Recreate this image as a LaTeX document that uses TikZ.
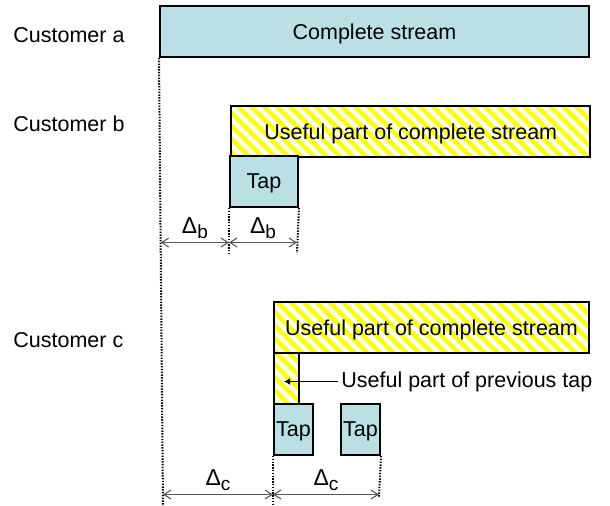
\documentclass[tikz,border=0pt]{standalone}
\usepackage{fontspec}
\setmainfont{Liberation Sans}
\usepackage{tikz}
\usetikzlibrary{calc,arrows.meta,patterns.meta}
\definecolor{tapblue}{RGB}{185,224,228}
\tikzset{
 tapfill/.style = {draw=black, line width=1pt, fill=tapblue, inner sep=0pt, text depth=0pt},
 hatchfill/.style = {draw=black, line width=1pt, inner sep=0pt, text depth=0pt,
   pattern={Lines[angle=-45, distance=4.6pt, line width=2.3pt]}, pattern color=yellow},
 custlabel/.style = {anchor=base west, inner sep=0pt},
 guideline/.style = {line width=1pt, dash pattern=on 0.7pt off 0.7pt},
 dimline/.style = {draw=black!65, line width=0.55pt,
   {Straight Barb[length=3.5pt,width=4.5pt]}-{Straight Barb[length=3.5pt,width=4.5pt]}},
 dimlabel/.style = {above, inner sep=1.5pt}
}
\pgfkeys{
 /segBlock/.is family, /segBlock,
 w/.estore in = \sbW,
 h/.estore in = \sbH,
 text/.store in = \sbText,
 kind/.estore in = \sbKind,
 name/.estore in = \sbName,
 default/.style =
  {w=68, h=51, text={}, kind=tapfill, name=defaultname}
}
\newcommand{\segBlock}[2][]{
    \pgfkeys{/segBlock, default, #1}%
    \node[\sbKind, anchor=north west,
          minimum width=\sbW*0.5pt, minimum height=\sbH*0.5pt] (\sbName) at #2 {\sbText};
}
\newcommand{\guideSB}[3]{
    \coordinate (#3) at #2;
    \draw[guideline] (#1) -- (#3);
}
\newcommand{\dsub}[1]{{\fontsize{11.5}{12}\selectfont Δ}\raisebox{-2.5pt}{\fontsize{9.5}{10}\selectfont #1}}

\begin{document}
\begin{tikzpicture}[x=0.5pt, y=-0.5pt, font=\fontsize{10.75}{12}\selectfont]
    \useasboundingbox (0,0) rectangle (610,506);

    \node[custlabel] (custA) at (13,42.5) {Customer a};
    \node[custlabel] (custB) at (13,132) {Customer b};
    \node[custlabel] (custC) at (13,348) {Customer c};

    \segBlock[name=streamA, w=429, text={Complete stream}]{(159,5)}
    \segBlock[name=usefulB, w=359, kind=hatchfill, text={Useful part of complete stream}]{(229,104)}
    \segBlock[name=tapB, text={Tap}]{(229,155)}
    \segBlock[name=usefulC, w=315, kind=hatchfill, text={Useful part of complete stream}]{(273,301)}
    \segBlock[name=prevC, w=25, kind=hatchfill]{(273,352)}
    \segBlock[name=tapCa, w=39, text={Tap}]{(273,403)}
    \segBlock[name=tapCb, w=39, text={Tap}]{(340,403)}

    \guideSB{streamA.south west}{(163,505)}{gA}
    \guideSB{tapB.south west}{(229,253)}{gBa}
    \guideSB{tapB.south east}{(297,253)}{gBb}
    \guideSB{tapCa.south west}{(273,505)}{gCa}
    \guideSB{tapCb.south east}{(379,497)}{gCb}

    \coordinate (dB0) at (160.7,242.5);
    \coordinate (dB1) at (229,242.5);
    \coordinate (dB2) at (297,242.5);
    \coordinate (dC0) at (163,494.5);
    \coordinate (dC1) at (273,494.5);
    \coordinate (dC2) at (379,494.5);
    \draw[dimline] (dB0) -- node[dimlabel]{\dsub{b}} (dB1);
    \draw[dimline] (dB1) -- node[dimlabel]{\dsub{b}} (dB2);
    \draw[dimline] (dC0) -- node[dimlabel]{\dsub{c}} (dC1);
    \draw[dimline] (dC1) -- node[dimlabel]{\dsub{c}} (dC2);

    \node[anchor=west, inner sep=1.5pt] (tapNote) at (338,381.5) {Useful part of previous tap};
    \coordinate (prevTip) at (284,381.5);
    \draw[line width=0.6pt, -{Latex[length=3pt,width=3.5pt]}] (tapNote.west) -- (prevTip);
\end{tikzpicture}
\end{document}
